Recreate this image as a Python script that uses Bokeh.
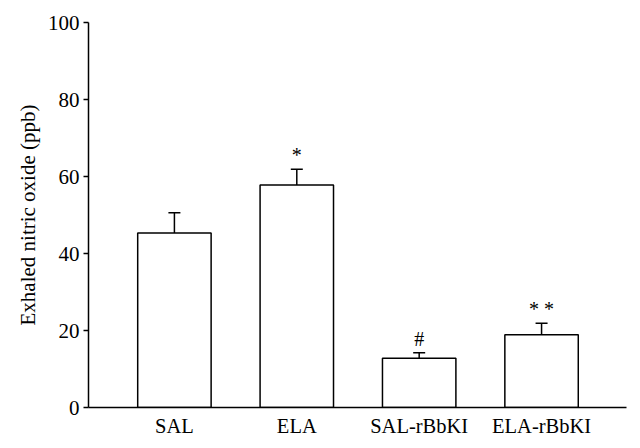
from bokeh.plotting import figure
from bokeh.models import ColumnDataSource, FixedTicker, Whisker, TeeHead, Range1d
from bokeh.core.properties import value
from bokeh.embed import file_html
from bokeh.resources import INLINE

categories = ["SAL", "ELA", "SAL-rBbKI", "ELA-rBbKI"]
means = [45.3, 57.8, 12.8, 18.9]
errors = [5.3, 4.1, 1.4, 3.0]
marks = ["", "*", "#", "* *"]
y_ticks = [0, 20, 40, 60, 80, 100]

xs = list(range(len(categories)))
upper = [m + e for m, e in zip(means, errors)]
src = ColumnDataSource(dict(x=xs, top=means, upper=upper, mark=marks))

FONT = "Liberation Serif"

p = figure(width=632, height=440, output_backend="svg", toolbar_location=None,
           x_range=Range1d(-0.702, 3.694), y_range=Range1d(0, 100),
           min_border_left=88, min_border_right=6, min_border_top=22, min_border_bottom=33)
p.outline_line_color = None
p.xgrid.grid_line_color = None
p.ygrid.grid_line_color = None
p.background_fill_color = "white"

p.vbar(x="x", top="top", bottom=0, width=0.6, source=src,
       fill_color="white", line_color="black", line_width=1.5)

w = Whisker(base="x", lower="top", upper="upper", source=src,
            line_color="black", line_width=1.5,
            upper_head=TeeHead(size=12, line_color="black", line_width=1.5),
            lower_head=None)
p.add_layout(w)

p.text(x="x", y="upper", text="mark", source=src, text_align="center",
       text_baseline="bottom", y_offset=-3,
       text_font=value(FONT), text_font_size="20px", text_color="black")

# y axis
p.yaxis.ticker = FixedTicker(ticks=y_ticks)
p.yaxis.axis_label = "Exhaled nitric oxide (ppb)"
p.yaxis.axis_label_text_font = FONT
p.yaxis.axis_label_text_font_style = "normal"
p.yaxis.axis_label_text_font_size = "21px"
p.yaxis.axis_label_text_color = "black"
p.yaxis.axis_label_standoff = 5
p.yaxis.major_label_text_font = FONT
p.yaxis.major_label_text_font_size = "21px"
p.yaxis.major_label_text_color = "black"
p.yaxis.major_label_standoff = 4
p.yaxis.major_tick_out = 5
p.yaxis.major_tick_in = 0
p.yaxis.minor_tick_line_color = None
p.yaxis.axis_line_width = 1.5
p.yaxis.major_tick_line_width = 1.5
p.yaxis.axis_line_color = "black"
p.yaxis.major_tick_line_color = "black"

# x axis
p.xaxis.ticker = FixedTicker(ticks=xs)
p.xaxis.major_label_overrides = {i: c for i, c in zip(xs, categories)}
p.xaxis.major_label_text_font = FONT
p.xaxis.major_label_text_font_size = "20.5px"
p.xaxis.major_label_text_color = "black"
p.xaxis.major_tick_line_color = None
p.xaxis.major_tick_out = 0
p.xaxis.major_tick_in = 0
p.xaxis.minor_tick_line_color = None
p.xaxis.major_label_standoff = 7
p.xaxis.axis_line_width = 1.5
p.xaxis.axis_line_color = "black"

open("out.html", "w").write(file_html(p, INLINE))
